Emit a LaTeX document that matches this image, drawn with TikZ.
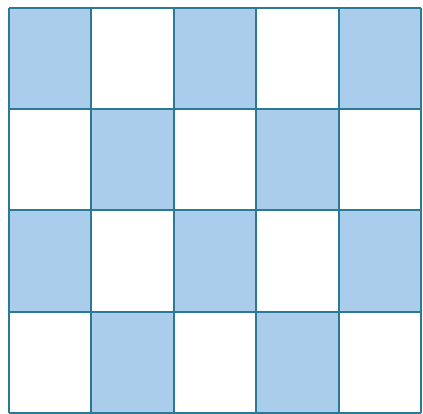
\documentclass[tikz,border=0pt]{standalone}
\usepackage{tikz}

\definecolor{cellblue}{HTML}{A9CDEB}
\definecolor{gridteal}{HTML}{2B7A95}

\begin{document}
\begin{tikzpicture}[x=82.4pt,y=-101.25pt]
\useasboundingbox (-9pt,8pt) rectangle (414pt,-406pt);
\foreach \i in {0,...,4}
  \foreach \j in {0,...,3}{
    \pgfmathparse{int(mod(\i+\j,2))}
    \ifnum\pgfmathresult=0
      \fill[cellblue] (\i,\j) rectangle (\i+1,\j+1);
    \fi
  }
\foreach \i in {0,...,5}
  \draw[gridteal,line width=2pt] (\i,0) -- (\i,4);
\foreach \j in {0,...,4}
  \draw[gridteal,line width=2pt] (0,\j) -- (5,\j);
\end{tikzpicture}
\end{document}
